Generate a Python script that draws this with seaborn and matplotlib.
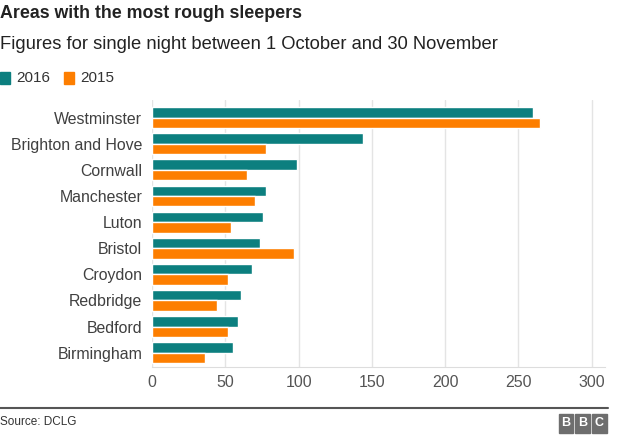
import pandas as pd
import matplotlib.pyplot as plt
import seaborn as sns
from matplotlib.patches import Rectangle

areas = ['Westminster', 'Brighton and Hove', 'Cornwall', 'Manchester', 'Luton',
         'Bristol', 'Croydon', 'Redbridge', 'Bedford', 'Birmingham']
y2016 = [260, 144, 99, 78, 76, 74, 68, 61, 59, 55]
y2015 = [265, 78, 65, 70, 54, 97, 52, 44, 52, 36]
years = ['2016', '2015']
colors = ['#0c7f7f', '#fd7e00']

df = pd.DataFrame({'Area': areas * 2,
                   'Count': y2016 + y2015,
                   'Year': ['2016'] * len(areas) + ['2015'] * len(areas)})

sns.set_style('white')
plt.rcParams['font.family'] = ['Liberation Sans', 'DejaVu Sans']

fig = plt.figure(figsize=(6.4, 4.36), dpi=100)
ax = fig.add_axes([0.2375, 0.158, 0.7078, 0.613])

sns.barplot(data=df, x='Count', y='Area', hue='Year', hue_order=years,
            palette=colors, orient='h', width=0.8, saturation=1,
            legend=False, ax=ax)

ax.set_xlim(0, 309)
ax.set_ylim(9.55, -0.68)
ax.set_xticks([0, 50, 100, 150, 200, 250, 300])
ax.grid(axis='x', color='#e4e4e4', linewidth=1)
ax.set_axisbelow(True)
for s in ['top', 'right', 'left']:
    ax.spines[s].set_visible(False)
ax.spines['bottom'].set_color('#dddddd')
ax.tick_params(axis='x', length=0, pad=6, labelsize=11.5, labelcolor='#555555')
ax.tick_params(axis='y', length=0, pad=7, labelsize=11.4, labelcolor='#404040')
ax.set_xlabel('')
ax.set_ylabel('')

fig.text(0.0, 0.988, 'Areas with the most rough sleepers', fontsize=12.8,
         fontweight='bold', color='#222222', va='top', ha='left')
fig.text(0.0, 0.918, 'Figures for single night between 1 October and 30 November',
         fontsize=13.2, color='#222222', va='top', ha='left')

# legend
for i, (yr, c) in enumerate(zip(years, colors)):
    x0 = 0.0 + i * 0.1
    fig.patches.append(Rectangle((x0, 0.808), 0.016, 0.026, color=c,
                                 transform=fig.transFigure, figure=fig))
    fig.text(x0 + 0.026, 0.821, yr, fontsize=11, color='#333333',
             va='center', ha='left')

# footer
fig.add_artist(plt.Line2D([0, 0.95], [0.064, 0.064], color='#555555',
                          linewidth=1.5, transform=fig.transFigure))
fig.text(0.0, 0.032, 'Source: DCLG', fontsize=8.5, color='#333333',
         va='center', ha='left')
for i, ch in enumerate('BBC'):
    x0 = 0.873 + i * 0.026
    fig.patches.append(Rectangle((x0, 0.008), 0.023, 0.042, color='#6e6e6e',
                                 transform=fig.transFigure, figure=fig))
    fig.text(x0 + 0.0115, 0.029, ch, fontsize=9, fontweight='bold',
             color='white', va='center', ha='center')

fig.savefig('out.png', dpi=100)
